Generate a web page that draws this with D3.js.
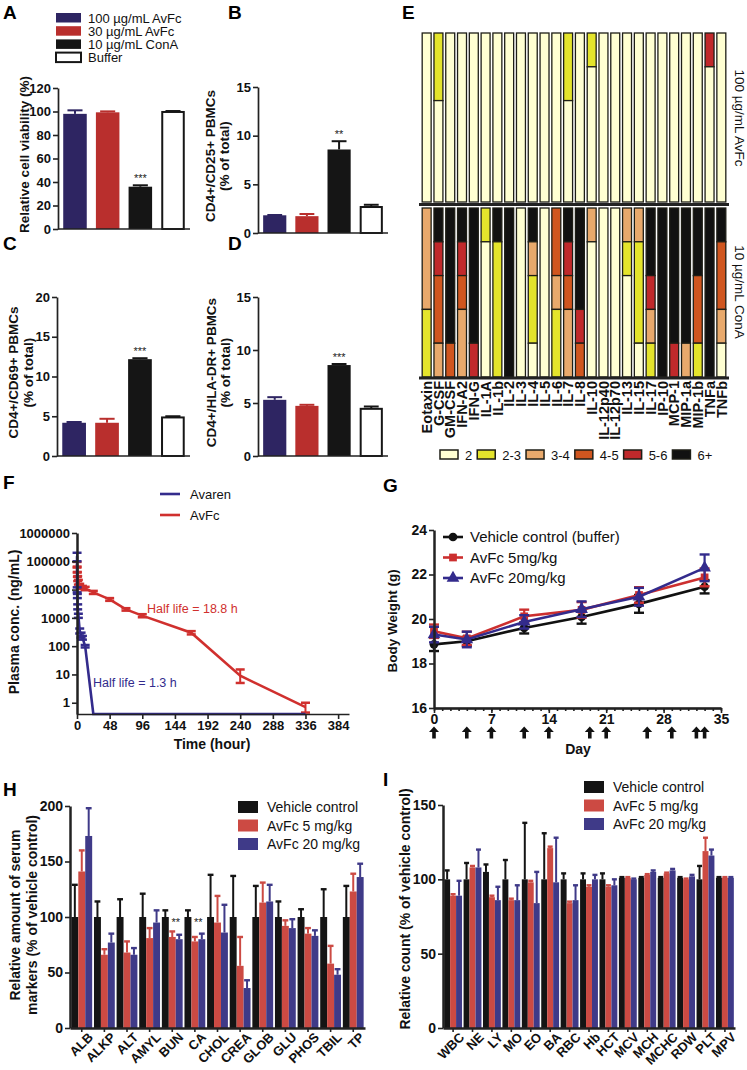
<!DOCTYPE html>
<html>
<head>
<meta charset="utf-8">
<script src="https://cdn.jsdelivr.net/npm/d3@7"></script>
<style>
  body { margin: 0; background: #fff; }
  svg { display: block; font-family: "Liberation Sans", Arial, sans-serif; }
</style>
</head>
<body>
<svg id="fig" width="747" height="1070"></svg>
<script>
'use strict';

// ---- data ----
var groups = ["100 µg/mL AvFc", "30 µg/mL AvFc", "10 µg/mL ConA", "Buffer"];
var viability = [98, 99.3, 36, 99.6], viabilitySem = [3, 0.8, 1.2, 0.8];
var cd25 = [1.82, 1.73, 8.58, 2.67], cd25Sem = [0.03, 0.22, 0.85, 0.23];
var cd69 = [4.18, 4.18, 12.18, 4.85], cd69Sem = [0.1, 0.5, 0.12, 0.15];
var hladr = [5.3, 4.73, 8.58, 4.45], hladrSem = [0.25, 0.1, 0.1, 0.22];

var cytokines = ["Eotaxin", "G-CSF", "GM-CSF", "IFN-A2", "IFN-G", "IL-1A", "IL-1b", "IL-2", "IL-3",
  "IL-4", "IL-5", "IL-6", "IL-7", "IL-8", "IL-10", "IL-12p40", "IL-12p70", "IL-13", "IL-15",
  "IL-17", "IP-10", "MCP-1", "MIP-1a", "MIP-1b", "TNFa", "TNFb"];
var foldLevels = ["2", "2-3", "3-4", "4-5", "5-6", "6+"];
// 5 replicates per cytokine (top -> bottom), digit = index in foldLevels
var avfcFold = ["00000", "11000", "00000", "00000", "00000", "00000", "00000", "00000", "00000",
  "00000", "00000", "00000", "11000", "00000", "10000", "00000", "00000", "00000", "00000",
  "00000", "00000", "00000", "00000", "00000", "40000", "00000"];
var conaFold = ["22211", "54332", "55553", "54322", "55554", "10000", "51111", "55555", "00000",
  "52110", "00000", "33211", "54322", "55543", "20000", "00000", "00000", "21000", "21110",
  "55421", "55555", "55554", "55552", "55331", "55555", "53320"];

var redTime = [0.08, 0.25, 0.5, 1, 2, 4, 8, 12, 24, 48, 72, 96, 168, 240, 336];
var redConc = [80000, 50000, 35000, 25000, 18000, 14000, 12000, 11000, 8000, 4500, 2000, 1200, 300, 9, 0.7];
var redLo = [60000, 40000, 28000, 20000, 15000, 12000, 10500, 9500, 7000, 4000, 1800, 1050, 260, 5, 0.45];
var redHi = [95000, 65000, 42000, 30000, 22000, 16000, 13500, 12500, 9000, 5000, 2200, 1350, 340, 15, 1];
var blueTime = [0.08, 0.25, 0.5, 1, 2, 4, 6, 8, 12, 24, 48, 72, 96, 168, 240, 336];
var blueConc = [150000, 10000, 6000, 2500, 1200, 350, 250, 200, 100, 0.4, 0.4, 0.4, 0.4, 0.4, 0.4, 0.4];
var blueLo = [100000, 8000, 5000, 2000, 1000, 280, 200, 170, 90, 0.4, 0.4, 0.4, 0.4, 0.4, 0.4, 0.4];
var blueHi = [200000, 12000, 7000, 3000, 1400, 420, 300, 230, 110, 0.4, 0.4, 0.4, 0.4, 0.4, 0.4, 0.4];

var weightDays = [0, 4, 11, 18, 25, 33];
var weightVehicle = [18.86, 19.0, 19.6, 20.09, 20.68, 21.45], weightVehicleSd = [0.3, 0.2, 0.25, 0.3, 0.4, 0.3];
var weight5 = [19.45, 19.13, 20.12, 20.41, 21.08, 21.87], weight5Sd = [0.3, 0.3, 0.3, 0.35, 0.35, 0.4];
var weight20 = [19.3, 19.08, 19.87, 20.44, 21.0, 22.3], weight20Sd = [0.35, 0.35, 0.3, 0.35, 0.4, 0.6];
var doseDays = [0, 4, 7, 11, 14, 19, 21, 26, 29, 32, 33];

var series = ["Vehicle control", "AvFc 5 mg/kg", "AvFc 20 mg/kg"];
var serumMarkers = ["ALB", "ALKP", "ALT", "AMYL", "BUN", "CA", "CHOL", "CREA", "GLOB", "GLU", "PHOS", "TBIL", "TP"];
var serumVehicle = [100, 100, 100, 100, 100, 100, 100, 100, 100, 100, 100, 100, 100];
var serumVehicleSd = [29, 14, 16, 21, 6, 6, 38, 37, 28, 14, 7, 25, 28];
var serum5 = [141, 66, 68, 81, 82, 78, 95, 56, 113, 92, 85, 58, 123];
var serum5Sd = [19, 5, 10, 9, 5, 4, 24, 26, 18, 5, 5, 16, 16];
var serum20 = [173, 77, 66, 95, 80, 80, 86, 36, 114, 90, 83, 48, 136];
var serum20Sd = [25, 8, 6, 11, 4, 5, 25, 7, 15, 8, 5, 5, 12];
var serumStars = ["BUN", "CA"];

var bloodCounts = ["WBC", "NE", "LY", "MO", "EO", "BA", "RBC", "Hb", "HCT", "MCV", "MCH", "MCHC", "RDW", "PLT", "MPV"];
var bloodVehicle = [100, 100, 105, 100, 100, 100, 100, 100, 100, 101, 101, 101, 101, 100, 101];
var bloodVehicleSd = [6, 11, 5, 13, 38, 31, 4, 4, 4, 0.5, 0.5, 0.5, 0.5, 9, 0.5];
var blood5 = [89, 108, 88, 86, 98, 121, 84, 95, 95, 101, 103, 104, 100, 119, 101];
var blood5Sd = [1, 1, 1, 1, 1, 1, 1, 1, 1, 0.5, 0.5, 0.5, 0.5, 9, 0.5];
var blood20 = [89, 108, 86, 86, 84, 98, 86, 100, 96, 100, 105, 106, 102, 116, 101];
var blood20Sd = [10, 12, 9, 10, 21, 30, 10, 3, 4, 0.5, 1, 1, 1, 4, 0.5];

// ---- styles ----
var INK = "#161616";
var groupFill = ["#2e2562", "#b92f2d", "#151515", "#ffffff"];
var groupLine = ["#2e2562", "#b92f2d", "#151515", "#151515"];
var foldColors = ["#ffffd2", "#e4e42c", "#e8a96c", "#d0561f", "#c0292b", "#111111"];
var seriesColors = ["#141414", "#cc4a43", "#3f3a88"];
var pkRed = "#d0302e", pkBlue = "#332b8c";

var svg = d3.select("#fig");

function letter(t, x, y) {
  svg.append("text").attr("x", x).attr("y", y).attr("font-size", 19)
    .attr("font-weight", "bold").attr("fill", "#000").text(t);
}

function rotText(t, x, cy, size, weight, color) {
  return svg.append("text")
    .attr("transform", "translate(" + x + "," + cy + ") rotate(-90)")
    .attr("text-anchor", "middle").attr("font-size", size)
    .attr("font-weight", weight || "bold").attr("fill", color || "#111").text(t);
}

function styleAxis(g, size) {
  g.attr("font-family", null).attr("font-size", size).attr("font-weight", "bold");
  g.select(".domain").attr("stroke", "#222").attr("stroke-width", 1.7);
  g.selectAll(".tick line").attr("stroke", "#222").attr("stroke-width", 1.6);
  g.selectAll(".tick text").attr("fill", "#111");
  return g;
}

// ---- A-D: bar panels ----
function barPanel(o) {
  var x = d3.scaleBand().domain(groups).range([o.left, o.right]).paddingInner(0.28).paddingOuter(0.16);
  var y = d3.scaleLinear().domain([0, o.max]).range([o.bottom, o.top]);
  var bw = x.bandwidth();
  var g = svg.append("g");
  var cx = function (d, i) { return x(groups[i]) + bw / 2; };

  g.selectAll(".err").data(o.vals).join("line")
    .attr("x1", cx).attr("x2", cx)
    .attr("y1", function (d) { return y(d); })
    .attr("y2", function (d, i) { return y(d + o.sem[i]); })
    .attr("stroke", function (d, i) { return groupLine[i]; }).attr("stroke-width", 2);
  g.selectAll(".cap").data(o.vals).join("line")
    .attr("x1", function (d, i) { return cx(d, i) - bw * 0.32; })
    .attr("x2", function (d, i) { return cx(d, i) + bw * 0.32; })
    .attr("y1", function (d, i) { return y(d + o.sem[i]); })
    .attr("y2", function (d, i) { return y(d + o.sem[i]); })
    .attr("stroke", function (d, i) { return groupLine[i]; }).attr("stroke-width", 2);

  g.selectAll(".bar").data(o.vals).join("rect")
    .attr("x", function (d, i) { return x(groups[i]) + (i === 3 ? 1 : 0); })
    .attr("width", function (d, i) { return bw - (i === 3 ? 2 : 0); })
    .attr("y", function (d) { return y(d); })
    .attr("height", function (d) { return o.bottom - y(d); })
    .attr("fill", function (d, i) { return groupFill[i]; })
    .attr("stroke", function (d, i) { return i === 3 ? INK : "none"; })
    .attr("stroke-width", 2);

  styleAxis(g.append("g").attr("transform", "translate(" + o.left + ",0)")
    .call(d3.axisLeft(y).tickValues(o.ticks).tickSize(5).tickSizeOuter(0).tickPadding(2)), 13);
  g.append("line").attr("x1", o.left).attr("x2", o.right).attr("y1", o.bottom).attr("y2", o.bottom)
    .attr("stroke", "#222").attr("stroke-width", 1.7);

  g.append("text").attr("x", cx(0, o.starAt)).attr("y", y(o.vals[o.starAt] + o.sem[o.starAt]) - 3)
    .attr("text-anchor", "middle").attr("font-size", 11).attr("fill", "#222").text(o.star);

  o.label.forEach(function (l) { rotText(l[0], l[1], (o.top + o.bottom) / 2 - 4, 13.5); });
}

barPanel({ left: 58, right: 190, top: 88, bottom: 229, max: 120, ticks: d3.range(0, 121, 20),
  vals: viability, sem: viabilitySem, star: "***", starAt: 2, label: [["Relative cell viability (%)", 29]] });
barPanel({ left: 258, right: 388, top: 87, bottom: 233, max: 15, ticks: [0, 5, 10, 15],
  vals: cd25, sem: cd25Sem, star: "**", starAt: 2, label: [["CD4+/CD25+ PBMCs", 215], ["(% of total)", 229]] });
barPanel({ left: 57, right: 190, top: 297, bottom: 456, max: 20, ticks: [0, 5, 10, 15, 20],
  vals: cd69, sem: cd69Sem, star: "***", starAt: 2, label: [["CD4+/CD69+ PBMCs", 18], ["(% of total)", 33]] });
barPanel({ left: 258, right: 388, top: 297, bottom: 456, max: 15, ticks: [0, 5, 10, 15],
  vals: hladr, sem: hladrSem, star: "***", starAt: 2, label: [["CD4+/HLA-DR+ PBMCs", 216], ["(% of total)", 230]] });

// legend for A
var legA = svg.append("g").selectAll("g").data(groups).join("g")
  .attr("transform", function (d, i) { return "translate(55," + (13 + i * 13.2) + ")"; });
legA.append("rect").attr("x", 1).attr("y", 0).attr("width", 25).attr("height", 9.5)
  .attr("fill", function (d, i) { return groupFill[i]; })
  .attr("stroke", function (d, i) { return i === 3 ? INK : "none"; }).attr("stroke-width", 2);
legA.append("text").attr("x", 33).attr("y", 9.5).attr("font-size", 13).attr("fill", "#111")
  .text(function (d) { return d; });

// ---- E: cytokine fold-change grid ----
var ex = d3.scaleBand().domain(cytokines).range([421, 727]).paddingInner(0.24).paddingOuter(0.1);
var reps = d3.range(5);

function foldBlock(codes, top, bottom) {
  var ry = d3.scaleBand().domain(reps).range([top, bottom]);
  var g = svg.append("g");
  codes.forEach(function (code, ci) {
    var runs = [];
    code.split("").forEach(function (c, r) {
      var lvl = +c, last = runs[runs.length - 1];
      if (last && last.lvl === lvl) last.end = r;
      else runs.push({ lvl: lvl, start: r, end: r });
    });
    g.append("g").selectAll("rect").data(runs).join("rect")
      .attr("x", ex(cytokines[ci])).attr("width", ex.bandwidth())
      .attr("y", function (d) { return ry(d.start); })
      .attr("height", function (d) { return ry(d.end) + ry.bandwidth() - ry(d.start); })
      .attr("fill", function (d) { return foldColors[d.lvl]; })
      .attr("stroke", "#1e1e16").attr("stroke-width", 1.3);
  });
}
foldBlock(avfcFold, 33, 202);
foldBlock(conaFold, 208, 377);
[204.5, 378].forEach(function (yy) {
  svg.append("line").attr("x1", 419).attr("x2", 729).attr("y1", yy).attr("y2", yy)
    .attr("stroke", "#222").attr("stroke-width", 3);
});

svg.append("g").selectAll("text").data(cytokines).join("text")
  .attr("transform", function (d) { return "translate(" + (ex(d) + ex.bandwidth() / 2) + ",381) rotate(-90)"; })
  .attr("dy", "0.36em").attr("text-anchor", "end").attr("font-size", 14.5).attr("font-weight", "bold")
  .attr("fill", "#111").text(function (d) { return d; });

[["100 µg/mL AvFc", 118], ["10 µg/mL ConA", 292]].forEach(function (l) {
  svg.append("text").attr("transform", "translate(735," + l[1] + ") rotate(90)")
    .attr("text-anchor", "middle").attr("font-size", 13.5).attr("fill", "#111").text(l[0]);
});

// legend for E, laid out left to right
var lx = 440;
foldLevels.forEach(function (lv, i) {
  svg.append("rect").attr("x", lx).attr("y", 450).attr("width", 18).attr("height", 9)
    .attr("fill", foldColors[i]).attr("stroke", "#1e1e16").attr("stroke-width", 1.5);
  var t = svg.append("text").attr("x", lx + 25).attr("y", 459.5).attr("font-size", 13)
    .attr("fill", "#111").text(lv);
  lx += 25 + t.node().getComputedTextLength() + 5;
});

// ---- F: pharmacokinetics ----
var fx = d3.scaleLinear().domain([0, 400]).range([77, 349]);
var fy = d3.scaleLog().domain([0.4, 1e6]).range([714, 533]);
var fg = svg.append("g");

function pkSeries(times, conc, lo, hi, color) {
  var pts = times.map(function (t, i) { return { t: t, v: conc[i], lo: lo[i], hi: hi[i] }; });
  fg.append("path").datum(pts).attr("fill", "none").attr("stroke", color).attr("stroke-width", 2.6)
    .attr("d", d3.line().x(function (d) { return fx(d.t); }).y(function (d) { return fy(d.v); }));
  var eb = pts.filter(function (d) { return d.hi > d.lo; });
  fg.selectAll(null).data(eb).join("line")
    .attr("x1", function (d) { return fx(d.t); }).attr("x2", function (d) { return fx(d.t); })
    .attr("y1", function (d) { return fy(d.lo); }).attr("y2", function (d) { return fy(d.hi); })
    .attr("stroke", color).attr("stroke-width", 2);
  ["lo", "hi"].forEach(function (k) {
    fg.selectAll(null).data(eb).join("line")
      .attr("x1", function (d) { return fx(d.t) - 4.5; }).attr("x2", function (d) { return fx(d.t) + 4.5; })
      .attr("y1", function (d) { return fy(d[k]); }).attr("y2", function (d) { return fy(d[k]); })
      .attr("stroke", color).attr("stroke-width", 2.5);
  });
}
pkSeries(redTime, redConc, redLo, redHi, pkRed);
pkSeries(blueTime, blueConc, blueLo, blueHi, pkBlue);

styleAxis(fg.append("g").attr("transform", "translate(77,0)")
  .call(d3.axisLeft(fy).tickValues([1, 10, 100, 1000, 10000, 100000, 1000000])
    .tickFormat(d3.format("d")).tickSize(5).tickSizeOuter(0).tickPadding(2)), 13);
fg.select(".domain").attr("stroke-width", 2.5);
styleAxis(fg.append("g").attr("transform", "translate(0,714)")
  .call(d3.axisBottom(fx).tickValues(d3.range(0, 385, 48)).tickSize(5).tickSizeOuter(0).tickPadding(2)), 13);
rotText("Plasma conc. (ng/mL)", 19, 622, 14);
fg.append("text").attr("x", 212).attr("y", 749).attr("text-anchor", "middle")
  .attr("font-size", 14).attr("font-weight", "bold").attr("fill", "#111").text("Time (hour)");
fg.append("text").attr("x", 147).attr("y", 613).attr("font-size", 12.5).attr("fill", pkRed).text("Half life = 18.8 h");
fg.append("text").attr("x", 93).attr("y", 687).attr("font-size", 12.5).attr("fill", pkBlue).text("Half life = 1.3 h");
[["Avaren", pkBlue, 494], ["AvFc", pkRed, 515]].forEach(function (l) {
  fg.append("line").attr("x1", 160).attr("x2", 180).attr("y1", l[2]).attr("y2", l[2])
    .attr("stroke", l[1]).attr("stroke-width", 2.6);
  fg.append("text").attr("x", 190).attr("y", l[2] + 4.5).attr("font-size", 13).attr("fill", "#111").text(l[0]);
});

// ---- G: body weight ----
var gx = d3.scaleLinear().domain([0, 35]).range([434, 721]);
var gy = d3.scaleLinear().domain([16, 24]).range([708, 530]);
var gg = svg.append("g");
var gSeries = [
  { name: "Vehicle control (buffer)", m: weightVehicle, sd: weightVehicleSd, color: "#111", shape: d3.symbolCircle, size: 60 },
  { name: "AvFc 5mg/kg", m: weight5, sd: weight5Sd, color: "#cc2f2f", shape: d3.symbolSquare, size: 60 },
  { name: "AvFc 20mg/kg", m: weight20, sd: weight20Sd, color: "#332b8c", shape: d3.symbolTriangle, size: 70 }
];
gSeries.forEach(function (s) {
  var pts = weightDays.map(function (d, i) { return { d: d, m: s.m[i], sd: s.sd[i] }; });
  gg.append("path").datum(pts).attr("fill", "none").attr("stroke", s.color).attr("stroke-width", 2.6)
    .attr("d", d3.line().x(function (p) { return gx(p.d); }).y(function (p) { return gy(p.m); }));
  var e = gg.append("g").selectAll("g").data(pts).join("g");
  e.append("line").attr("x1", function (p) { return gx(p.d); }).attr("x2", function (p) { return gx(p.d); })
    .attr("y1", function (p) { return gy(p.m - p.sd); }).attr("y2", function (p) { return gy(p.m + p.sd); })
    .attr("stroke", s.color).attr("stroke-width", 2.2);
  [-1, 1].forEach(function (k) {
    e.append("line").attr("x1", function (p) { return gx(p.d) - 5; }).attr("x2", function (p) { return gx(p.d) + 5; })
      .attr("y1", function (p) { return gy(p.m + k * p.sd); }).attr("y2", function (p) { return gy(p.m + k * p.sd); })
      .attr("stroke", s.color).attr("stroke-width", 2.4);
  });
  e.append("path").attr("d", d3.symbol().type(s.shape).size(s.size))
    .attr("transform", function (p) { return "translate(" + gx(p.d) + "," + gy(p.m) + ")"; })
    .attr("fill", s.color);
});
styleAxis(gg.append("g").attr("transform", "translate(434,0)")
  .call(d3.axisLeft(gy).tickValues([16, 18, 20, 22, 24]).tickSize(5).tickSizeOuter(0).tickPadding(2)), 14);
gg.select(".domain").attr("stroke-width", 2.5);
styleAxis(gg.append("g").attr("transform", "translate(0,708)")
  .call(d3.axisBottom(gx).tickValues(d3.range(0, 36)).tickFormat("").tickSize(3).tickSizeOuter(0)), 14)
  .select(".domain").attr("stroke-width", 2.5);
styleAxis(gg.append("g").attr("transform", "translate(0,708)")
  .call(d3.axisBottom(gx).tickValues(d3.range(0, 36, 7)).tickSize(5).tickSizeOuter(0).tickPadding(1)), 14);
gg.selectAll(".arrow").data(doseDays).join("path")
  .attr("d", "M0,-6.5 L5,-1 L1.8,-1 L1.8,5.5 L-1.8,5.5 L-1.8,-1 L-5,-1 Z")
  .attr("transform", function (d) { return "translate(" + gx(d) + ",733)"; }).attr("fill", "#111");
gg.append("text").attr("x", 578).attr("y", 754).attr("text-anchor", "middle")
  .attr("font-size", 14).attr("font-weight", "bold").attr("fill", "#111").text("Day");
rotText("Body Weight (g)", 397, 621, 13.5);
gSeries.forEach(function (s, i) {
  var yy = 537 + i * 20.5;
  gg.append("line").attr("x1", 443).attr("x2", 463).attr("y1", yy).attr("y2", yy).attr("stroke", s.color).attr("stroke-width", 2.6);
  gg.append("path").attr("d", d3.symbol().type(s.shape).size(s.size)).attr("transform", "translate(453," + yy + ")").attr("fill", s.color);
  gg.append("text").attr("x", 470).attr("y", yy + 5).attr("font-size", 15).attr("fill", "#111").text(s.name);
});

// ---- H, I: grouped bars ----
function groupedPanel(o) {
  var x0 = d3.scaleBand().domain(o.cats).range([o.left, o.right]).paddingInner(0.08).paddingOuter(0.06);
  var x1 = d3.scaleBand().domain(series).range([0, x0.bandwidth()]);
  var y = d3.scaleLinear().domain([0, o.max]).range([o.bottom, o.top]);
  var g = svg.append("g");
  var rows = [];
  o.means.forEach(function (arr, si) {
    arr.forEach(function (m, ci) {
      rows.push({ c: o.cats[ci], s: series[si], si: si, m: m, sd: o.sds[si][ci] });
    });
  });
  var cx = function (d) { return x0(d.c) + x1(d.s) + x1.bandwidth() / 2; };
  g.selectAll(".err").data(rows).join("line")
    .attr("x1", cx).attr("x2", cx)
    .attr("y1", function (d) { return y(d.m); }).attr("y2", function (d) { return y(d.m + d.sd); })
    .attr("stroke", function (d) { return seriesColors[d.si]; }).attr("stroke-width", 2);
  g.selectAll(".cap").data(rows).join("line")
    .attr("x1", function (d) { return cx(d) - x1.bandwidth() * 0.42; })
    .attr("x2", function (d) { return cx(d) + x1.bandwidth() * 0.42; })
    .attr("y1", function (d) { return y(d.m + d.sd); }).attr("y2", function (d) { return y(d.m + d.sd); })
    .attr("stroke", function (d) { return seriesColors[d.si]; }).attr("stroke-width", 2.4);
  g.selectAll(".bar").data(rows).join("rect")
    .attr("x", function (d) { return x0(d.c) + x1(d.s); }).attr("width", x1.bandwidth())
    .attr("y", function (d) { return y(d.m); }).attr("height", function (d) { return o.bottom - y(d.m); })
    .attr("fill", function (d) { return seriesColors[d.si]; });

  styleAxis(g.append("g").attr("transform", "translate(" + o.left + ",0)")
    .call(d3.axisLeft(y).tickValues(o.ticks).tickSize(5).tickSizeOuter(0).tickPadding(2)), 14)
    .select(".domain").attr("stroke-width", 2.5);
  var xa = styleAxis(g.append("g").attr("transform", "translate(0," + o.bottom + ")")
    .call(d3.axisBottom(x0).tickSize(4).tickSizeOuter(0).tickPadding(2)), 13);
  xa.select(".domain").attr("stroke-width", 2.5);
  xa.selectAll(".tick text").attr("text-anchor", "end").attr("dy", "0.3em")
    .attr("transform", "translate(5,3) rotate(-45)");

  (o.stars || []).forEach(function (c) {
    g.append("text").attr("x", x0(c) + x1(series[2])).attr("y", y(92)).attr("text-anchor", "middle")
      .attr("font-size", 11).attr("fill", "#222").text("**");
  });

  var lg = g.append("g").selectAll("g").data(series).join("g")
    .attr("transform", function (d, i) { return "translate(" + o.legX + "," + (o.legY + i * 18.5) + ")"; });
  lg.append("rect").attr("width", 20).attr("height", 12).attr("y", -6).attr("fill", function (d, i) { return seriesColors[i]; });
  lg.append("text").attr("x", 29).attr("y", 5).attr("font-size", 14).attr("fill", "#111").text(function (d) { return d; });

  o.label.forEach(function (l) { rotText(l[0], l[1], o.labelY, 14); });
}

groupedPanel({ cats: serumMarkers, left: 70, right: 365, top: 806, bottom: 1028, max: 200,
  ticks: [0, 50, 100, 150, 200], means: [serumVehicle, serum5, serum20], sds: [serumVehicleSd, serum5Sd, serum20Sd],
  stars: serumStars, legX: 238, legY: 807, labelY: 915,
  label: [["Relative amount of serum", 20], ["markers (% of vehicle control)", 37]] });
groupedPanel({ cats: bloodCounts, left: 443, right: 735, top: 805, bottom: 1028, max: 150,
  ticks: [0, 50, 100, 150], means: [bloodVehicle, blood5, blood20], sds: [bloodVehicleSd, blood5Sd, blood20Sd],
  legX: 584, legY: 787, labelY: 909,
  label: [["Relative count (% of vehicle control)", 410]] });

// panel letters
letter("A", 3, 19); letter("B", 228, 19); letter("C", 3, 250); letter("D", 228, 250);
letter("E", 402, 19); letter("F", 3, 489); letter("G", 383, 492); letter("H", 3, 796); letter("I", 383, 786);
</script>
</body>
</html>
